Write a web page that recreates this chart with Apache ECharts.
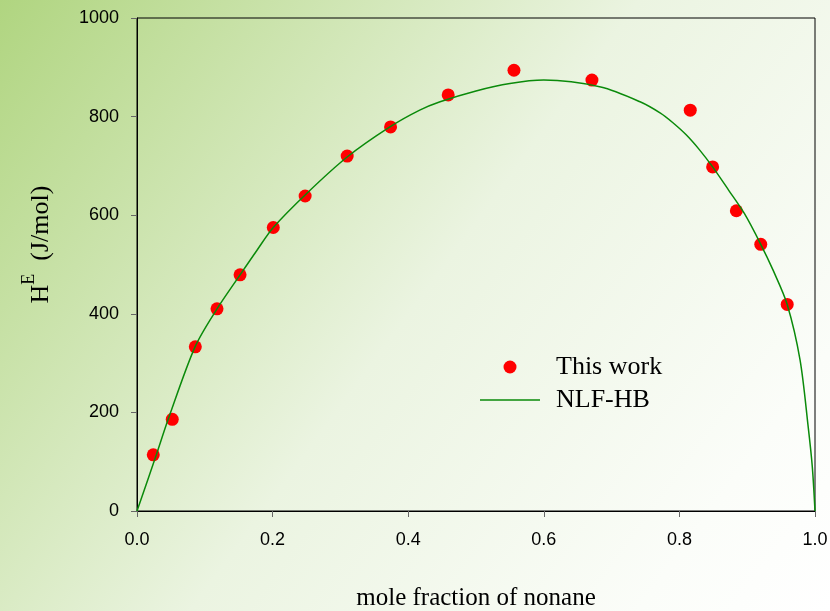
<!DOCTYPE html>
<html>
<head>
<meta charset="utf-8">
<script src="https://cdn.jsdelivr.net/npm/echarts@6/dist/echarts.min.js"></script>
<style>
  html, body { margin: 0; padding: 0; }
  #chart { width: 830px; height: 611px; }
</style>
</head>
<body>
<div id="chart"></div>
<script>
// measured points (mole fraction, J/mol)
var expX = [0.024, 0.052, 0.086, 0.118, 0.152, 0.201, 0.248, 0.310, 0.374, 0.459, 0.556, 0.671, 0.816, 0.849, 0.884, 0.920, 0.959];
var expY = [114, 186, 333, 410, 479, 575, 639, 720, 779, 844, 894, 874, 813, 698, 609, 541, 419];

// NLF-HB fitted curve
var fitX = [0, 0.0285, 0.046, 0.0856, 0.118, 0.152, 0.177, 0.201, 0.251, 0.310, 0.373, 0.417, 0.447, 0.50, 0.55, 0.60, 0.684, 0.742, 0.772, 0.79, 0.81, 0.83, 0.849, 0.873, 0.896, 0.920, 0.938, 0.959, 0.978, 0.990, 0.996, 1.0];
var fitY = [0, 114, 186, 333, 410, 479, 529, 575, 645, 718, 779, 813, 830, 852, 867, 874, 860, 830, 807, 788, 763, 732, 698, 650, 603, 541, 489, 419, 306, 170, 90, 0];

var xTicks = [0, 0.2, 0.4, 0.6, 0.8, 1.0];
var yTicks = [0, 200, 400, 600, 800, 1000];

var serif = 'Liberation Serif';
var sans = 'Liberation Sans';

var expData = expX.map(function (x, i) { return [x, expY[i]]; });
var fitData = fitX.map(function (x, i) { return [x, fitY[i]]; });

// thin horizontal stroke for the legend, the open end segments keep the box 60x13
var lineIcon = 'path://M0,0L60,0M0,5.75L60,5.75L60,7.25L0,7.25ZM0,13L60,13';

var myChart = echarts.init(document.getElementById('chart'));

var option = {
    animation: false,
    backgroundColor: new echarts.graphic.LinearGradient(0, 0, 1, 1, [
        { offset: 0, color: '#b0d580' },
        { offset: 0.5, color: '#ebf4e1' },
        { offset: 0.85, color: '#fbfdf9' },
        { offset: 1, color: '#ffffff' }
    ]),
    grid: {
        left: 137, right: 15, top: 18, bottom: 100,
        outerBoundsMode: 'none',
        containLabel: false,
        show: true,
        borderColor: '#000',
        borderWidth: 1,
        backgroundColor: 'transparent'
    },
    legend: {
        orient: 'vertical',
        left: 480,
        top: 352,
        padding: 0,
        itemWidth: 60,
        itemHeight: 13,
        itemGap: 3,
        textStyle: {
            fontFamily: serif,
            fontSize: 26,
            color: '#000',
            lineHeight: 30,
            padding: [0, 0, 0, 11]
        },
        data: [
            { name: 'This work', icon: 'circle' },
            { name: 'NLF-HB', icon: lineIcon, itemStyle: { borderWidth: 0 } }
        ]
    },
    xAxis: {
        type: 'value',
        min: 0,
        max: 1,
        interval: 0.2,
        name: 'mole fraction of nonane',
        nameLocation: 'middle',
        nameGap: 75,
        nameTextStyle: { fontFamily: serif, fontSize: 25, color: '#000' },
        axisLine: { lineStyle: { color: '#000', width: 1 } },
        axisTick: { show: true, length: 6, inside: false, lineStyle: { color: '#666' } },
        axisLabel: {
            margin: 20,
            fontFamily: sans,
            fontSize: 18,
            color: '#000',
            formatter: function (v) { return v.toFixed(1); }
        },
        splitLine: { show: false }
    },
    yAxis: {
        type: 'value',
        min: 0,
        max: 1000,
        interval: 200,
        name: '{h|H}{e|E}{s|  (J/mol)}',
        nameLocation: 'middle',
        nameRotate: 90,
        nameGap: 83,
        nameTextStyle: {
            fontFamily: serif,
            fontSize: 26,
            color: '#000',
            padding: [0, 0, 0, 40],
            rich: {
                h: { fontFamily: serif, fontSize: 26, color: '#000', lineHeight: 34, verticalAlign: 'bottom' },
                e: { fontFamily: serif, fontSize: 18, color: '#000', lineHeight: 34, verticalAlign: 'top' },
                s: { fontFamily: serif, fontSize: 26, color: '#000', lineHeight: 34, verticalAlign: 'bottom' }
            }
        },
        axisLine: { show: true, lineStyle: { color: '#000', width: 1 } },
        axisTick: { show: true, length: 6, inside: false, lineStyle: { color: '#666' } },
        axisLabel: {
            margin: 18,
            fontFamily: sans,
            fontSize: 18,
            color: '#000',
            formatter: function (v) { return String(v); }
        },
        splitLine: { show: false }
    },
    series: [
        {
            name: 'This work',
            type: 'scatter',
            data: expData,
            symbol: 'circle',
            symbolSize: 13,
            itemStyle: { color: '#ff0000', opacity: 1 },
            z: 2
        },
        {
            name: 'NLF-HB',
            type: 'line',
            data: fitData,
            smooth: 0.3,
            showSymbol: false,
            symbol: 'none',
            lineStyle: { color: '#0a8a0a', width: 1.5 },
            itemStyle: { color: '#0a8a0a' },
            z: 3
        }
    ]
};

myChart.setOption(option);
</script>
</body>
</html>
